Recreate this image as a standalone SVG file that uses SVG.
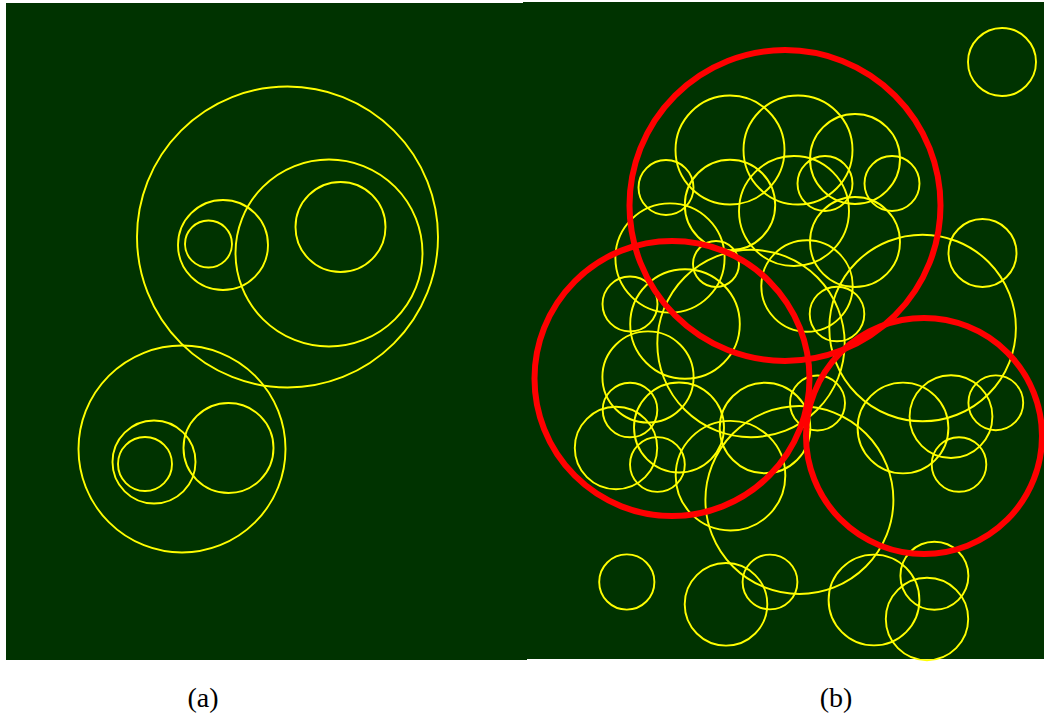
<svg xmlns="http://www.w3.org/2000/svg" width="1044" height="716" viewBox="0 0 1044 716">
<style>
.bg{fill:#003300}
.y{fill:none;stroke:#ffff00;stroke-width:1.9}
.r{fill:none;stroke:#ff0000;stroke-width:6}
.lbl{font-family:"Liberation Serif",serif;font-size:28px;fill:#000;text-anchor:middle}
</style>
<rect width="1044" height="716" fill="#ffffff"/>
<g id="panel-a">
<rect class="bg" x="6" y="3" width="521" height="657"/>
<circle class="y" cx="287.5" cy="237" r="150.5"/>
<circle class="y" cx="329" cy="253" r="93.5"/>
<circle class="y" cx="340.5" cy="227" r="45"/>
<circle class="y" cx="223" cy="245" r="45"/>
<circle class="y" cx="208.5" cy="244" r="23.5"/>
<circle class="y" cx="182" cy="449" r="103.5"/>
<circle class="y" cx="228.5" cy="448" r="45"/>
<circle class="y" cx="154" cy="462" r="41.5"/>
<circle class="y" cx="145" cy="464" r="27"/>
</g>
<g id="panel-b">
<rect class="bg" x="523" y="2" width="521" height="657"/>
<circle class="y" cx="1002" cy="62" r="34"/>
<circle class="y" cx="730" cy="150" r="54.5"/>
<circle class="y" cx="798" cy="150" r="54.5"/>
<circle class="y" cx="855" cy="159" r="45"/>
<circle class="y" cx="892" cy="183.5" r="27.5"/>
<circle class="y" cx="825" cy="183.5" r="27.5"/>
<circle class="y" cx="666" cy="187.5" r="27.5"/>
<circle class="y" cx="730" cy="205" r="45.2"/>
<circle class="y" cx="794" cy="211" r="55"/>
<circle class="y" cx="855" cy="242" r="45"/>
<circle class="y" cx="670" cy="258" r="54.6"/>
<circle class="y" cx="716" cy="264" r="23"/>
<circle class="y" cx="807" cy="286" r="45.7"/>
<circle class="y" cx="837" cy="314" r="27.3"/>
<circle class="y" cx="982.5" cy="253" r="34"/>
<circle class="y" cx="922.6" cy="328" r="93.3"/>
<circle class="y" cx="630" cy="304" r="27.5"/>
<circle class="y" cx="685" cy="324" r="54.8"/>
<circle class="y" cx="751" cy="343.5" r="93.7"/>
<circle class="y" cx="648" cy="377" r="45.6"/>
<circle class="y" cx="630" cy="410" r="27.3"/>
<circle class="y" cx="679" cy="427.5" r="45"/>
<circle class="y" cx="616" cy="448" r="41.2"/>
<circle class="y" cx="657.4" cy="464.5" r="27.4"/>
<circle class="y" cx="730.5" cy="475.7" r="54.8"/>
<circle class="y" cx="765" cy="428" r="45.3"/>
<circle class="y" cx="817.5" cy="403" r="27.5"/>
<circle class="y" cx="799.4" cy="500" r="94"/>
<circle class="y" cx="903" cy="428" r="45.4"/>
<circle class="y" cx="951" cy="416.6" r="41.4"/>
<circle class="y" cx="995.8" cy="402.8" r="27.4"/>
<circle class="y" cx="959" cy="464.5" r="27.3"/>
<circle class="y" cx="626.8" cy="582" r="27.6"/>
<circle class="y" cx="726" cy="604.3" r="41.3"/>
<circle class="y" cx="770" cy="582" r="27.4"/>
<circle class="y" cx="874" cy="600" r="45.4"/>
<circle class="y" cx="934.4" cy="575.8" r="34"/>
<circle class="y" cx="927" cy="619" r="41.2"/>
<circle class="r" cx="785" cy="205.5" r="155.5"/>
<circle class="r" cx="672" cy="378.5" r="137.5"/>
<circle class="r" cx="924" cy="436" r="118"/>
</g>
<g id="labels">
<text class="lbl" x="203" y="707">(a)</text>
<text class="lbl" x="836" y="707">(b)</text>
</g>
</svg>
